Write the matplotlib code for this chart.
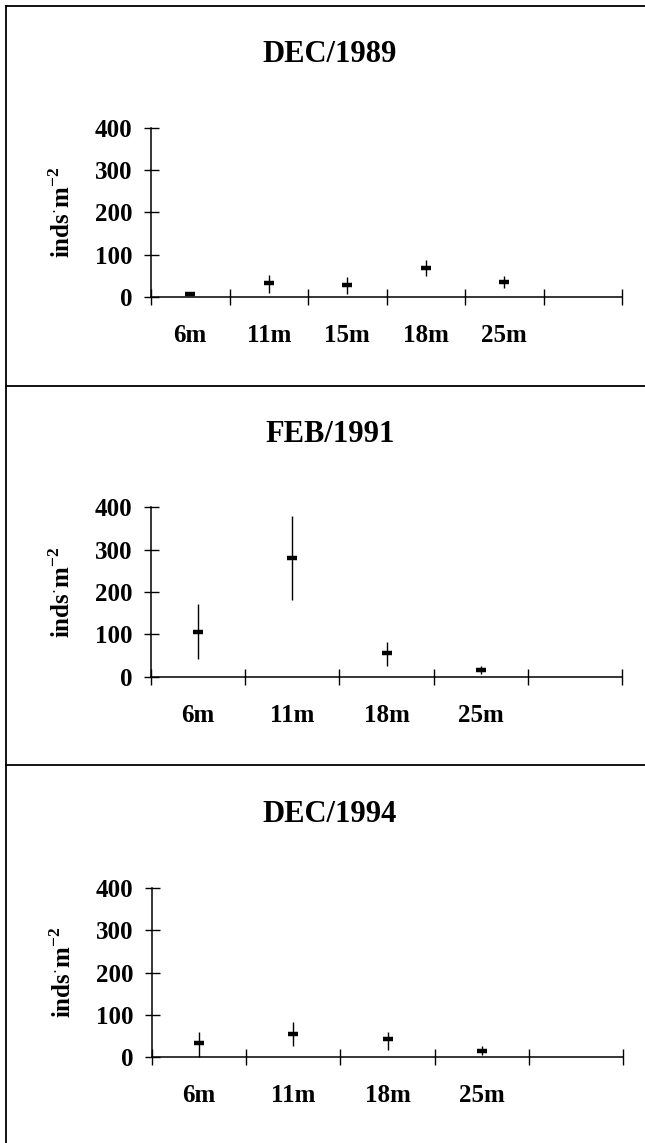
import matplotlib
matplotlib.use('Agg')
import matplotlib.pyplot as plt
from matplotlib.lines import Line2D
from matplotlib.ticker import FixedLocator, NullFormatter, FixedFormatter

plt.rcParams['font.family'] = ['Liberation Serif', 'DejaVu Serif']
plt.rcParams['mathtext.fontset'] = 'custom'
plt.rcParams['mathtext.rm'] = 'Liberation Serif:bold'
plt.rcParams['mathtext.bf'] = 'Liberation Serif:bold'

# ---------------- data ----------------
titles = ['DEC/1989', 'FEB/1991', 'DEC/1994']

depths_1989 = ['6m', '11m', '15m', '18m', '25m']
mean_1989 = [7, 32, 28, 69, 35]
low_1989 = [4, 8, 6, 50, 20]
high_1989 = [10, 52, 46, 87, 50]

depths_1991 = ['6m', '11m', '18m', '25m']
mean_1991 = [106, 281, 55, 16]
low_1991 = [41, 180, 25, 6]
high_1991 = [171, 379, 83, 25]

depths_1994 = ['6m', '11m', '18m', '25m']
mean_1994 = [32, 55, 42, 14]
low_1994 = [0, 25, 17, 4]
high_1994 = [59, 83, 59, 26]

yticks = [0, 100, 200, 300, 400]
ylabel = r'inds$^{\cdot}$m$^{\mathregular{-2}}$'

panels = [
    (titles[0], depths_1989, mean_1989, low_1989, high_1989),
    (titles[1], depths_1991, mean_1991, low_1991, high_1991),
    (titles[2], depths_1994, mean_1994, low_1994, high_1994),
]

# ---------------- layout (pixels) ----------------
W, H = 645, 1143
fig = plt.figure(figsize=(W / 100, H / 100), dpi=100)

# left, right, y(0), y(400), title baseline
boxes = [
    (151, 622, 296.7, 128.0, 61.7),
    (151, 622, 676.7, 507.3, 441.7),
    (152, 623, 1056.7, 888.3, 821.7),
]

for (title, cats, means, lows, highs), (l, r, yb, yt, tb) in zip(panels, boxes):
    ax = fig.add_axes([l / W, 1 - yb / H, (r - l) / W, (yb - yt) / H])
    n = len(cats) + 1
    x = [i + 0.5 for i in range(len(cats))]
    err_lo = [m - lo for m, lo in zip(means, lows)]
    err_hi = [hi - m for m, hi in zip(means, highs)]
    ax.errorbar(x, means, yerr=[err_lo, err_hi], fmt='_', color='black',
                ecolor='black', elinewidth=1.0, capsize=0,
                markersize=7.5, markeredgewidth=3.2, clip_on=False, zorder=3)
    ax.set_xlim(0, n)
    ax.set_ylim(0, 400)
    for s in ['top', 'right']:
        ax.spines[s].set_visible(False)
    for s in ['left', 'bottom']:
        ax.spines[s].set_linewidth(1.1)
    ax.set_yticks(yticks)
    ax.set_yticklabels([str(v) for v in yticks], fontsize=18, fontweight='bold')
    ax.tick_params(axis='y', direction='inout', length=10.8, width=1.0, pad=8)
    ax.xaxis.set_major_locator(FixedLocator(list(range(n + 1))))
    ax.xaxis.set_major_formatter(NullFormatter())
    ax.xaxis.set_minor_locator(FixedLocator(x))
    ax.xaxis.set_minor_formatter(FixedFormatter(cats))
    ax.tick_params(axis='x', which='major', direction='inout', length=11.5, width=1.0)
    ax.tick_params(axis='x', which='minor', length=0, pad=20, labelsize=18)
    for lab in ax.get_xticklabels(minor=True):
        lab.set_fontweight('bold')
    ax.set_ylabel(ylabel, fontsize=18, fontweight='bold')
    ax.yaxis.set_label_coords(-0.161, 0.5)
    fig.text(330 / W, 1 - tb / H, title, ha='center', va='baseline',
             fontsize=22, fontweight='bold')

# panel frame lines
lx = 5.5 / W
lw = 1.3
fig.add_artist(Line2D([lx, 1], [1 - 6 / H, 1 - 6 / H], color='black', lw=lw,
                      transform=fig.transFigure))
fig.add_artist(Line2D([lx, lx], [0, 1 - 6 / H], color='black', lw=lw,
                      transform=fig.transFigure))
for ys in [385.7, 765.0]:
    fig.add_artist(Line2D([lx, 1], [1 - ys / H, 1 - ys / H], color='black', lw=lw,
                          transform=fig.transFigure))

fig.savefig('out.png', dpi=100)
